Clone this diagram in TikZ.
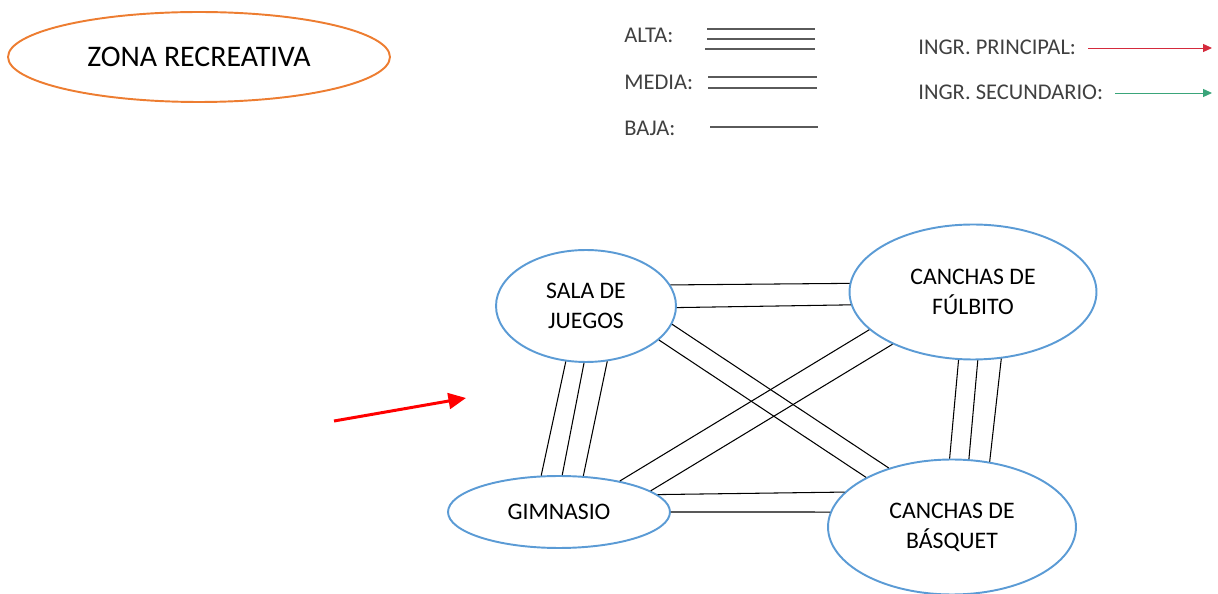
\documentclass[tikz,border=0pt]{standalone}
\usepackage{fontspec}
\setmainfont{Carlito}
\usetikzlibrary{arrows.meta,shapes.geometric,calc}
\definecolor{zoneorange}{HTML}{ED7D31}
\definecolor{siteblue}{HTML}{5B9BD5}
\definecolor{lgdtext}{HTML}{404040}
\definecolor{lgdgray}{HTML}{5A5A5A}
\definecolor{ingrred}{HTML}{D42A3C}
\definecolor{ingrgreen}{HTML}{3AA57A}

\begin{document}
\begin{tikzpicture}[
  x=0.02cm, y=-0.02cm,
  zone/.style={ellipse, draw=zoneorange, line width=1.1pt, inner sep=0pt, font=\fontsize{17}{20}\selectfont},
  site/.style={ellipse, draw=siteblue, line width=1.1pt, inner sep=0pt, align=center, font=\fontsize{13.5}{17}\selectfont},
  lgd/.style={anchor=west, inner sep=0pt, text=lgdtext, font=\fontsize{12.8}{15}\selectfont},
  road/.style={line width=0.6pt, draw=black},
  lgdline/.style={line width=0.6pt, draw=lgdgray},
  ingr/.style={-{Triangle[length=5pt,width=4.5pt]}, line width=0.5pt},
  mainingr/.style={-{Triangle[length=10pt,width=9pt]}, line width=1.7pt, draw=red}
]
\useasboundingbox (0,0) rectangle (1218,594);

\node[zone, minimum width=7.64cm, minimum height=1.8cm] (zona) at (199,57) {ZONA RECREATIVA};

% legend
\node[lgd] (alta)  at (624,35)  {ALTA:};
\node[lgd] (media) at (624,82)  {MEDIA:};
\node[lgd] (baja)  at (624,128) {BAJA:};
\node[lgd] (princ) at (918,47)  {INGR. PRINCIPAL:};
\node[lgd] (secun) at (918,92)  {INGR. SECUNDARIO:};

\coordinate (altaL)  at (707,39);  \coordinate (altaR)  at (815,39);
\coordinate (mediaL) at (708,82);  \coordinate (mediaR) at (817,82);
\coordinate (bajaL)  at (710,127); \coordinate (bajaR)  at (818,127);
\draw[lgdline] ($(altaL)+(0,-10)$) -- ($(altaR)+(0,-10)$);
\draw[lgdline] (altaL) -- (altaR);
\draw[lgdline] ($(altaL)+(-2,10)$) -- ($(altaR)+(0,10)$);
\draw[lgdline] ($(mediaL)+(0,-5)$) -- ($(mediaR)+(0,-5)$);
\draw[lgdline] ($(mediaL)+(0,6)$) -- ($(mediaR)+(0,6)$);
\draw[lgdline] (bajaL) -- (bajaR);

\coordinate (princL) at (1088,48); \coordinate (princR) at (1212,48);
\coordinate (secunL) at (1115,93); \coordinate (secunR) at (1212,93);
\draw[ingr, draw=ingrred] (princL) -- (princR);
\draw[ingr, draw=ingrgreen] (secunL) -- (secunR);

% areas
\node[site, minimum width=3.6cm,  minimum height=2.24cm] (sala) at (586,306) {SALA DE\\JUEGOS};
\node[site, minimum width=4.94cm, minimum height=2.7cm]  (fulb) at (973,292) {CANCHAS DE\\FÚLBITO};
\node[site, minimum width=4.44cm, minimum height=1.44cm] (gimn) at (559,512) {GIMNASIO};
\node[site, minimum width=4.96cm, minimum height=2.7cm]  (basq) at (952,527) {CANCHAS DE\\BÁSQUET};

\draw[road] (sala.14)  -- (fulb.176);
\draw[road] (sala.-1)  -- (fulb.186);

\draw[road] (sala.-110) -- (gimn.116);
\draw[road] (sala.-92)  -- (gimn.85);
\draw[road] (sala.-69)  -- (gimn.56);

\draw[road] (sala.-12) -- (basq.137);
\draw[road] (sala.-25) -- (basq.150);

\draw[road] (gimn.27) -- (fulb.200);
\draw[road] (gimn.13) -- (fulb.213);

\draw[road] (gimn.10) -- (basq.162);
\draw[road] (gimn.0)  -- (basq.173);

\draw[road] (fulb.-102) -- (basq.92);
\draw[road] (fulb.-86)  -- (basq.76);
\draw[road] (fulb.-67)  -- (basq.60);

\coordinate (entryA) at (334,421);
\coordinate (entryB) at (466,398);
\draw[mainingr] (entryA) -- (entryB);
\end{tikzpicture}
\end{document}
